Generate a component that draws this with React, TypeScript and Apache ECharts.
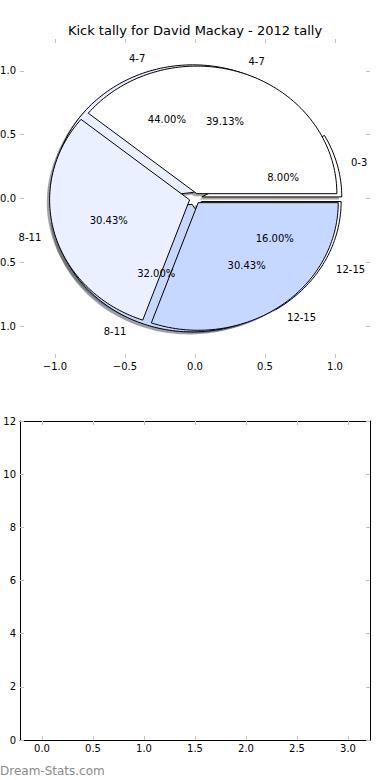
import React, { useEffect, useRef } from "react";
import * as echarts from "echarts";

// ---------- data ----------
const chartTitle = "Kick tally for David Mackay - 2012 tally";
// first pie (drawn underneath)
const pieACategories = ["0-3", "4-7", "8-11", "12-15"];
const pieAKicks = [2, 11, 8, 4];
// second pie (drawn on top)
const pieBCategories = ["4-7", "8-11", "12-15"];
const pieBKicks = [9, 7, 7];
// tick labels
const pieAxisTicks = [-1.0, -0.5, 0.0, 0.5, 1.0];
const lowerXTicks = [0.0, 0.5, 1.0, 1.5, 2.0, 2.5, 3.0];
const lowerYTicks = [0, 2, 4, 6, 8, 10, 12];
const sourceNote = "Dream-Stats.com";

// ---------- style ----------
const FONT = "DejaVu Sans";
const wedgeColors = ["#ffffff", "#eaf0ff", "#c6d8ff"];
const explodeA = 0.05;
const explodeB = 0.04;
const shadowOffset = 0.02;

function buildWedges(kicks: number[], explode: number) {
  const total = kicks.reduce((a, b) => a + b, 0);
  let acc = 0;
  return kicks.map((k, i) => {
    const start = (acc / total) * 360;
    acc += k;
    const end = (acc / total) * 360;
    return { value: [start, end, (k / total) * 100, i % wedgeColors.length, explode] };
  });
}

function shade(hex: string) {
  const r = parseInt(hex.slice(1, 3), 16);
  const g = parseInt(hex.slice(3, 5), 16);
  const b = parseInt(hex.slice(5, 7), 16);
  return `rgb(${Math.round(r * 0.3)},${Math.round(g * 0.3)},${Math.round(b * 0.3)})`;
}

function makeRenderer(kind: "shadow" | "wedge" | "label", cats: string[]) {
  return (params: any, api: any) => {
    const start = api.value(0);
    const end = api.value(1);
    const pct = api.value(2);
    const ci = api.value(3);
    const ex = api.value(4);
    const toRad = Math.PI / 180;
    const mid = ((start + end) / 2) * toRad;
    let cx = ex * Math.cos(mid);
    let cy = ex * Math.sin(mid);
    if (kind === "label") {
      const lx = cx + 1.1 * Math.cos(mid);
      const ly = cy + 1.1 * Math.sin(mid);
      const p = api.coord([lx, ly]);
      const q = api.coord([cx + 0.6 * Math.cos(mid), cy + 0.6 * Math.sin(mid)]);
      const ts = { fontSize: 10, fontFamily: FONT, fill: "#000" };
      return {
        type: "group",
        children: [
          {
            type: "text",
            x: p[0],
            y: p[1],
            style: { ...ts, text: cats[params.dataIndex], align: lx > 0 ? "left" : "right", verticalAlign: "middle" },
          },
          {
            type: "text",
            x: q[0],
            y: q[1],
            style: { ...ts, text: pct.toFixed(2) + "%", align: "center", verticalAlign: "middle" },
          },
        ],
      };
    }
    if (kind === "shadow") {
      cx -= shadowOffset;
      cy -= shadowOffset;
    }
    const pts: number[][] = [api.coord([cx, cy])];
    const steps = Math.max(4, Math.ceil((end - start) / 1.5));
    for (let s = 0; s <= steps; s++) {
      const a = (start + ((end - start) * s) / steps) * toRad;
      pts.push(api.coord([cx + Math.cos(a), cy + Math.sin(a)]));
    }
    const color = wedgeColors[ci];
    if (kind === "shadow") {
      return { type: "polygon", shape: { points: pts }, style: { fill: shade(color), opacity: 0.5, stroke: null } };
    }
    return {
      type: "polygon",
      shape: { points: pts },
      style: { fill: color, stroke: "#000", lineWidth: 1, lineJoin: "round" },
    };
  };
}

const fmt = (v: number, d: number) => v.toFixed(d).replace("-", "\u2212");
const tickStyle = { show: true, inside: true, length: 4, lineStyle: { color: "#c0c0c0", width: 1 } };
const labelBase = { color: "#000", fontSize: 10, fontFamily: FONT };

export default function App() {
  const ref = useRef<HTMLDivElement>(null);
  useEffect(() => {
    const chart = echarts.init(ref.current!, null, { renderer: "svg" });
    const dataA = buildWedges(pieAKicks, explodeA);
    const dataB = buildWedges(pieBKicks, explodeB);
    const pieSeries = (kind: "shadow" | "wedge" | "label", data: any[], cats: string[]) => ({
      type: "custom",
      coordinateSystem: "cartesian2d",
      xAxisIndex: 0,
      yAxisIndex: 0,
      clip: false,
      silent: true,
      renderItem: makeRenderer(kind, cats),
      data,
    });
    chart.setOption({
      animation: false,
      backgroundColor: "#fff",
      grid: [
        { left: 20, top: 39, width: 350, height: 319, containLabel: false, outerBoundsMode: "none" },
        { left: 20, top: 421, width: 350, height: 319, containLabel: false, outerBoundsMode: "none" },
      ],
      xAxis: [
        {
          gridIndex: 0,
          type: "value",
          min: -1.25,
          max: 1.25,
          position: "bottom",
          axisLine: { show: false, onZero: false },
          splitLine: { show: false },
          axisTick: { ...tickStyle, customValues: pieAxisTicks },
          axisLabel: { ...labelBase, margin: 3, customValues: pieAxisTicks, formatter: (v: number) => fmt(v, 1) },
        },
        {
          gridIndex: 0,
          type: "value",
          min: -1.25,
          max: 1.25,
          position: "top",
          axisLine: { show: false, onZero: false },
          splitLine: { show: false },
          axisTick: { ...tickStyle, customValues: pieAxisTicks },
          axisLabel: { show: false },
        },
        {
          gridIndex: 1,
          type: "value",
          min: -0.2157,
          max: 3.2157,
          position: "bottom",
          axisLine: { show: true, onZero: false, lineStyle: { color: "#000", width: 1 } },
          splitLine: { show: false },
          axisTick: { ...tickStyle, customValues: lowerXTicks },
          axisLabel: { ...labelBase, margin: 3, customValues: lowerXTicks, formatter: (v: number) => fmt(v, 1) },
        },
        {
          gridIndex: 1,
          type: "value",
          min: -0.2157,
          max: 3.2157,
          position: "top",
          axisLine: { show: true, onZero: false, lineStyle: { color: "#000", width: 1 } },
          splitLine: { show: false },
          axisTick: { ...tickStyle, customValues: lowerXTicks },
          axisLabel: { show: false },
        },
      ],
      yAxis: [
        {
          gridIndex: 0,
          type: "value",
          min: -1.25,
          max: 1.25,
          position: "left",
          axisLine: { show: false, onZero: false },
          splitLine: { show: false },
          axisTick: { ...tickStyle, customValues: pieAxisTicks },
          axisLabel: { ...labelBase, margin: 4, customValues: pieAxisTicks, formatter: (v: number) => fmt(v, 1) },
        },
        {
          gridIndex: 0,
          type: "value",
          min: -1.25,
          max: 1.25,
          position: "right",
          axisLine: { show: false, onZero: false },
          splitLine: { show: false },
          axisTick: { ...tickStyle, customValues: pieAxisTicks },
          axisLabel: { show: false },
        },
        {
          gridIndex: 1,
          type: "value",
          min: 0,
          max: 12,
          position: "left",
          axisLine: { show: true, onZero: false, lineStyle: { color: "#000", width: 1 } },
          splitLine: { show: false },
          axisTick: { ...tickStyle, customValues: lowerYTicks },
          axisLabel: { ...labelBase, margin: 4, customValues: lowerYTicks, formatter: (v: number) => String(v) },
        },
        {
          gridIndex: 1,
          type: "value",
          min: 0,
          max: 12,
          position: "right",
          axisLine: { show: true, onZero: false, lineStyle: { color: "#000", width: 1 } },
          splitLine: { show: false },
          axisTick: { ...tickStyle, customValues: lowerYTicks },
          axisLabel: { show: false },
        },
      ],
      graphic: [
        {
          type: "text",
          x: 195,
          y: 30,
          style: {
            text: chartTitle,
            fontSize: 13,
            fontFamily: FONT,
            fill: "#000",
            align: "center",
            verticalAlign: "middle",
          },
        },
        {
          type: "text",
          x: 0,
          y: 771,
          style: {
            text: sourceNote,
            fontSize: 12,
            fontFamily: FONT,
            fill: "#8a8a8a",
            align: "left",
            verticalAlign: "middle",
          },
        },
      ],
      series: [
        pieSeries("shadow", dataA, pieACategories),
        pieSeries("shadow", dataB, pieBCategories),
        pieSeries("wedge", dataA, pieACategories),
        pieSeries("wedge", dataB, pieBCategories),
        pieSeries("label", dataA, pieACategories),
        pieSeries("label", dataB, pieBCategories),
        { type: "line", xAxisIndex: 2, yAxisIndex: 2, data: [], silent: true },
      ],
    });
    return () => chart.dispose();
  }, []);
  return (
    <div
      ref={ref}
      style={{ position: "absolute", left: 0, top: 0, width: 390, height: 780, background: "#fff" }}
    />
  );
}
